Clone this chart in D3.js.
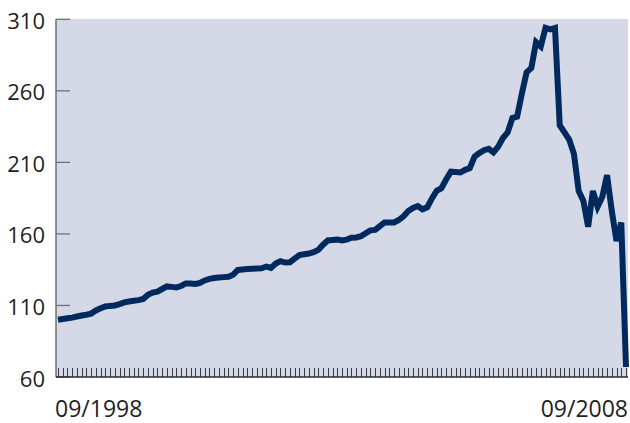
<!DOCTYPE html>
<html>
<head>
<meta charset="utf-8">
<script src="https://cdn.jsdelivr.net/npm/d3@7"></script>
<style>
  body { margin: 0; background: #fff; }
  svg { display: block; }
  text { font-family: "Open Sans", "Noto Sans", sans-serif; fill: #231f20; }
</style>
</head>
<body>
<svg id="chart" width="630" height="423"></svg>
<script>
// monthly index values, 09/1998 .. 09/2008
var values = [
  100, 100.5, 101, 101.5, 102.3, 103, 103.5, 104.3, 106.5, 108,
  109.3, 109.7, 110, 111, 112.2, 112.8, 113.3, 113.7, 114.5, 117.5,
  119, 119.7, 121.5, 123.3, 123, 122.6, 123.6, 125.4, 125.3, 125,
  125.8, 127.5, 128.6, 129.2, 129.5, 129.8, 130.1, 131.5, 134.8, 135.2,
  135.4, 135.6, 135.8, 136, 137.2, 136.2, 139.3, 141, 140, 140.2,
  142.7, 145.2, 145.8, 146.3, 147.2, 148.9, 152.5, 155.4, 155.7, 156,
  155.4, 156, 157.3, 157.5, 158.4, 160.5, 162.5, 162.8, 165.5, 168,
  168, 168, 169.7, 172.3, 176, 178.2, 179.5, 177.2, 178.6, 184.8,
  190.2, 191.9, 198, 203.5, 203.2, 202.9, 204.8, 206, 214, 216.5,
  218.5, 219.5, 217, 221, 227, 231, 241, 242, 258, 273,
  276, 294, 291, 304, 303, 304, 236, 231, 226, 216,
  190, 183, 165, 190, 179, 186, 201, 176, 155, 168,
  67
];
var yTicks = [60, 110, 160, 210, 260, 310];
var xLabels = ["09/1998", "09/2008"];

var plot = { left: 56, right: 628, top: 19, bottom: 377 };

var svg = d3.select("#chart");

var x = d3.scaleLinear()
    .domain([0, values.length - 1])
    .range([58, 626]);

var y = d3.scaleLinear()
    .domain([60, 310])
    .range([plot.bottom, plot.top + 0.3]);

svg.append("rect")
    .attr("x", plot.left)
    .attr("y", plot.top)
    .attr("width", plot.right - plot.left)
    .attr("height", plot.bottom - plot.top)
    .attr("fill", "#d5d8e7");

// y axis: line, short inward ticks, labels
svg.append("line")
    .attr("x1", plot.left).attr("x2", plot.left)
    .attr("y1", plot.top).attr("y2", plot.bottom)
    .attr("stroke", "#6f6f73")
    .attr("stroke-width", 1.5);

svg.selectAll(".ytick")
    .data(yTicks)
    .enter().append("line")
    .attr("class", "ytick")
    .attr("x1", plot.left).attr("x2", plot.left + 14)
    .attr("y1", function(d) { return y(d); })
    .attr("y2", function(d) { return y(d); })
    .attr("stroke", "#6f6f73")
    .attr("stroke-width", 1.3);

svg.selectAll(".ylabel")
    .data(yTicks)
    .enter().append("text")
    .attr("class", "ylabel")
    .attr("x", 45)
    .attr("y", function(d) { return y(d) + 9.5; })
    .attr("text-anchor", "end")
    .style("font-size", "22px")
    .text(function(d) { return d; });

// monthly x ticks
svg.selectAll(".xtick")
    .data(d3.range(values.length))
    .enter().append("line")
    .attr("class", "xtick")
    .attr("x1", function(d) { return Math.round(x(d)) + 0.5; })
    .attr("x2", function(d) { return Math.round(x(d)) + 0.5; })
    .attr("y1", plot.bottom - 9)
    .attr("y2", plot.bottom)
    .attr("stroke", "#3a3a3e")
    .attr("stroke-width", 1);

svg.append("line")
    .attr("x1", plot.left).attr("x2", plot.right)
    .attr("y1", plot.bottom).attr("y2", plot.bottom)
    .attr("stroke", "#2a2a2a")
    .attr("stroke-width", 1.5);

var line = d3.line()
    .x(function(d, i) { return x(i); })
    .y(function(d) { return y(d); });

svg.append("path")
    .datum(values)
    .attr("d", line)
    .attr("fill", "none")
    .attr("stroke", "#002a5e")
    .attr("stroke-width", 6)
    .attr("stroke-linejoin", "miter")
    .attr("stroke-miterlimit", 4);

svg.append("text")
    .attr("x", 55)
    .attr("y", 417)
    .style("font-size", "23px")
    .text(xLabels[0]);

svg.append("text")
    .attr("x", 628)
    .attr("y", 417)
    .attr("text-anchor", "end")
    .style("font-size", "23px")
    .text(xLabels[1]);
</script>
</body>
</html>
